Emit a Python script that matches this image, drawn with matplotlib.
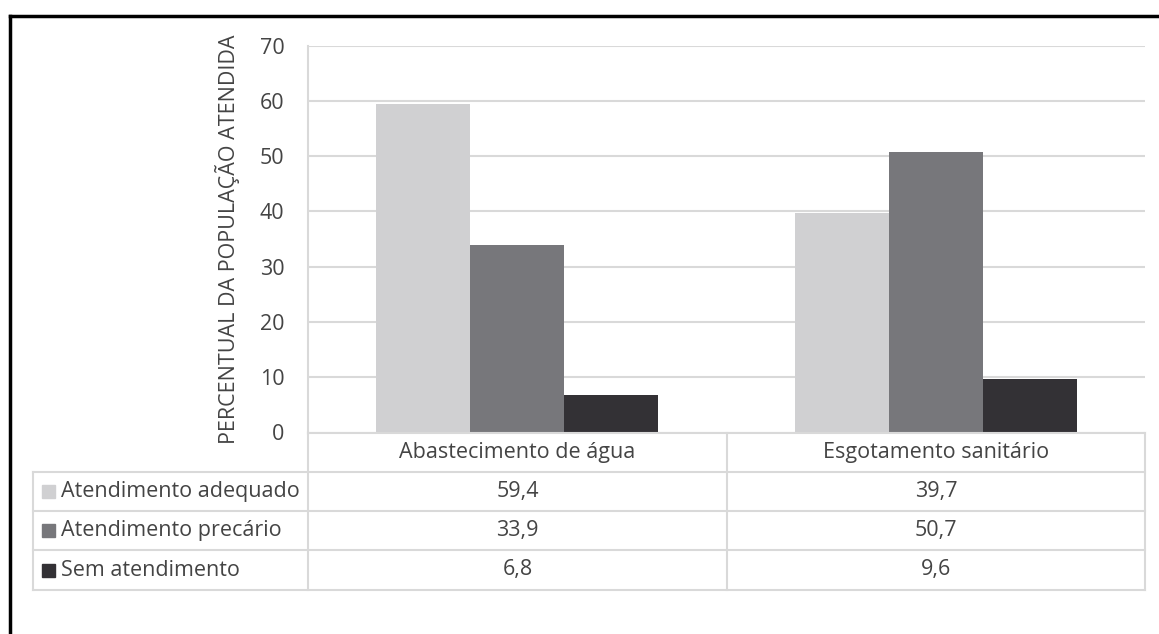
import numpy as np
import matplotlib.pyplot as plt
from matplotlib.patches import Rectangle
from matplotlib.lines import Line2D

plt.rcParams['font.family'] = ['Open Sans', 'DejaVu Sans']

categorias = ['Abastecimento de água', 'Esgotamento sanitário']
series = ['Atendimento adequado', 'Atendimento precário', 'Sem atendimento']
adequado = [59.4, 39.7]
precario = [33.9, 50.7]
sem_atend = [6.8, 9.6]
cores = ['#d0d0d2', '#77777b', '#333135']
yticks = [0, 10, 20, 30, 40, 50, 60, 70]

W, H = 1159, 634
fig = plt.figure(figsize=(W / 100, H / 100), dpi=100)

def fx(px):
    return px / W

def fy(py):
    return 1 - py / H

txt = '#444444'
grid = '#d9d9d9'
fs = 15.5

# plot area
x0, x1, ytop, ybot = 308, 1145, 45.5, 432.5
ax = fig.add_axes([fx(x0), fy(ybot), fx(x1) - fx(x0), fy(ytop) - fy(ybot)])
valores = [adequado, precario, sem_atend]
x = np.arange(len(categorias))
bw = 0.225
for i, (v, c) in enumerate(zip(valores, cores)):
    ax.bar(x + (i - 1) * bw, v, bw, color=c, zorder=3)
ax.set_xlim(-0.5, len(categorias) - 0.5)
ax.set_ylim(0, 70)
ax.set_yticks(yticks)
ax.set_yticklabels([str(t) for t in yticks], fontsize=fs, color=txt)
ax.tick_params(axis='y', length=0, pad=17)
ax.set_xticks([])
ax.grid(axis='y', color=grid, linewidth=1.5, zorder=0)
for s in ['top', 'right', 'bottom']:
    ax.spines[s].set_visible(False)
ax.spines['left'].set_color(grid)
ax.spines['left'].set_linewidth(1.5)
ax.set_ylabel('PERCENTUAL DA POPULAÇÃO ATENDIDA', fontsize=fs, color=txt, labelpad=14)

# data table
rows = [432.5, 472, 511, 550, 590]
xl, xm = 33, 727
cols = [x0, xm, x1]
lc = grid
lw = 1.5
for r in rows[1:]:
    fig.add_artist(Line2D([fx(xl), fx(x1)], [fy(r), fy(r)], color=lc, lw=lw))
fig.add_artist(Line2D([fx(x0), fx(x1)], [fy(rows[0]), fy(rows[0])], color=lc, lw=lw))
fig.add_artist(Line2D([fx(xl), fx(xl)], [fy(rows[1]), fy(rows[-1])], color=lc, lw=lw))
for c in cols:
    fig.add_artist(Line2D([fx(c), fx(c)], [fy(rows[0]), fy(rows[-1])], color=lc, lw=lw))

for j, cat in enumerate(categorias):
    cx = (cols[j] + cols[j + 1]) / 2
    cy = (rows[0] + rows[1]) / 2
    fig.text(fx(cx), fy(cy), cat, ha='center', va='center', fontsize=fs, color=txt)

for i, (nome, v, c) in enumerate(zip(series, valores, cores)):
    cy = (rows[i + 1] + rows[i + 2]) / 2
    fig.add_artist(Rectangle((fx(42), fy(cy + 6.5)), fx(13), fy(0) - fy(13),
                             transform=fig.transFigure, color=c))
    fig.text(fx(61), fy(cy), nome, ha='left', va='center', fontsize=fs, color=txt)
    for j in range(len(categorias)):
        cx = (cols[j] + cols[j + 1]) / 2
        fig.text(fx(cx), fy(cy), f'{v[j]:.1f}'.replace('.', ','),
                 ha='center', va='center', fontsize=fs, color=txt)

# frame lines (left and top)
fig.add_artist(Line2D([fx(10), fx(10)], [fy(16), fy(634)], color='black', lw=2.5))
fig.add_artist(Line2D([fx(10), fx(1157)], [fy(16), fy(16)], color='black', lw=2.5))

fig.savefig('out.png', dpi=100, facecolor='white')
